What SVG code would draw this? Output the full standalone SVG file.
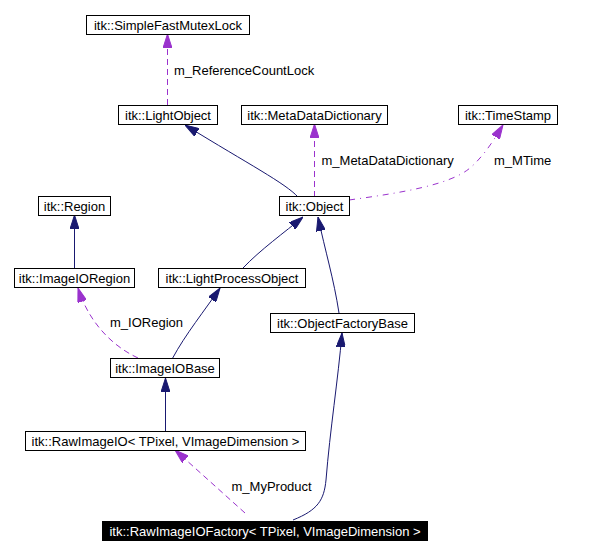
<svg xmlns="http://www.w3.org/2000/svg" width="590" height="555" viewBox="0 0 590 555">
<defs>
<style>
.box{fill:#ffffff;stroke:#000000;stroke-width:1}
.sel{fill:#000000;stroke:#000000;stroke-width:1}
.t{font-family:"Liberation Sans",Arial,sans-serif;font-size:13px;fill:#000000;text-anchor:middle}
.ts{font-family:"Liberation Sans",Arial,sans-serif;font-size:13px;fill:#ffffff;text-anchor:middle}
.lbl{font-family:"Liberation Sans",Arial,sans-serif;font-size:13px;fill:#000000}
.inh{fill:none;stroke:#191970;stroke-width:1;marker-end:url(#an)}
.use{fill:none;stroke:#9a32cd;stroke-width:1;stroke-dasharray:6,4;marker-end:url(#ap)}
.usedd{fill:none;stroke:#9a32cd;stroke-width:1;stroke-dasharray:6,5,1,5;marker-end:url(#ap)}
</style>
<marker id="an" viewBox="0 0 14 9" refX="14" refY="4.5" markerWidth="14" markerHeight="9" markerUnits="userSpaceOnUse" orient="auto">
<path d="M0,0 L14,4.5 L0,9 Z" fill="#191970" stroke="#191970" stroke-width="1" stroke-dasharray="none"/>
</marker>
<marker id="ap" viewBox="0 0 14 9" refX="14" refY="4.5" markerWidth="14" markerHeight="9" markerUnits="userSpaceOnUse" orient="auto">
<path d="M0,0 L14,4.5 L0,9 Z" fill="#9a32cd" stroke="#9a32cd" stroke-width="1" stroke-dasharray="none"/>
</marker>
</defs>
<rect width="590" height="555" fill="#ffffff"/>
<g id="connectors">
<path class="use" d="M167.5,105 L167.5,34"/>
<path class="inh" d="M298,197 C285,183 250,165 185,125"/>
<path class="use" d="M314.5,197 L314.5,124"/>
<path class="usedd" d="M349,200 C400,193 450,185 470,168 C485,155 495,138 503,125"/>
<path class="inh" d="M74.5,268 L74.5,215"/>
<path class="inh" d="M243,268 C260,250 285,232 303,217"/>
<path class="inh" d="M339,313 C334,280 325,250 318,217"/>
<path class="inh" d="M172.7,358 C185,335 205,310 220,288"/>
<path class="use" d="M138,358 C110,345 88,320 78,288"/>
<path class="inh" d="M165.5,431 L165.5,378"/>
<path class="use" d="M245,513 L175,450"/>
<path class="inh" d="M293,520 C318,510 324,500 326,480 C330,430 338,380 342,333"/>
<text class="lbl" x="174" y="75">m_ReferenceCountLock</text>
<text class="lbl" x="321.5" y="165">m_MetaDataDictionary</text>
<text class="lbl" x="494" y="165">m_MTime</text>
<text class="lbl" x="110" y="327">m_IORegion</text>
<text class="lbl" x="231.5" y="490.5">m_MyProduct</text>
</g>
<g id="SimpleFastMutexLock"><rect class="box" x="86.5" y="15.5" width="163" height="19"/><text class="t" x="168" y="29.5">itk::SimpleFastMutexLock</text></g>
<g id="LightObject"><rect class="box" x="118.5" y="105.5" width="99" height="19"/><text class="t" x="168" y="119.5">itk::LightObject</text></g>
<g id="MetaDataDictionary"><rect class="box" x="241.5" y="105.5" width="146" height="19"/><text class="t" x="314.5" y="119.5">itk::MetaDataDictionary</text></g>
<g id="TimeStamp"><rect class="box" x="458.5" y="105.5" width="99" height="19"/><text class="t" x="508" y="119.5">itk::TimeStamp</text></g>
<g id="Object"><rect class="box" x="279.5" y="196.5" width="70" height="19"/><text class="t" x="314.5" y="210.5">itk::Object</text></g>
<g id="Region"><rect class="box" x="38.5" y="196.5" width="72" height="19"/><text class="t" x="74.5" y="210.5">itk::Region</text></g>
<g id="ImageIORegion"><rect class="box" x="14.5" y="268.5" width="120" height="19"/><text class="t" x="74.5" y="282.5">itk::ImageIORegion</text></g>
<g id="LightProcessObject"><rect class="box" x="158.5" y="268.5" width="147" height="19"/><text class="t" x="232" y="282.5">itk::LightProcessObject</text></g>
<g id="ObjectFactoryBase"><rect class="box" x="270.5" y="313.5" width="144" height="19"/><text class="t" x="342.5" y="327.5">itk::ObjectFactoryBase</text></g>
<g id="ImageIOBase"><rect class="box" x="110.5" y="358.5" width="109" height="19"/><text class="t" x="165" y="372.5">itk::ImageIOBase</text></g>
<g id="RawImageIO"><rect class="box" x="25.5" y="431.5" width="280" height="19"/><text class="t" x="165.5" y="445.5">itk::RawImageIO&lt; TPixel, VImageDimension &gt;</text></g>
<g id="RawImageIOFactory"><rect class="sel" x="102.5" y="521.5" width="325" height="19"/><text class="ts" x="265" y="535.5">itk::RawImageIOFactory&lt; TPixel, VImageDimension &gt;</text></g>
</svg>
